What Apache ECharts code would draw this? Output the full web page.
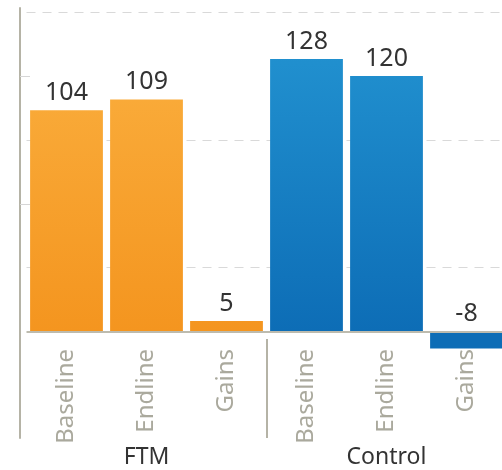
<!DOCTYPE html>
<html>
<head>
<meta charset="utf-8">
<script src="https://cdn.jsdelivr.net/npm/echarts@6/dist/echarts.min.js"></script>
<style>
html,body{margin:0;padding:0;background:#fff;}
#chart{width:502px;height:470px;}
</style>
</head>
<body>
<div id="chart"></div>
<script>
var groups = ['FTM', 'Control'];
var subCategories = ['Baseline', 'Endline', 'Gains'];
var ftmValues = [104, 109, 5];
var controlValues = [128, 120, -8];
var gridLineValues = [30, 90, 150];
var tickValues = [60, 120];

var categories = subCategories.concat(subCategories);
var nCat = categories.length;
var groupBoundary = subCategories.length;
var orange = {type:'linear', x:0, y:8, x2:0, y2:331, global:true,
  colorStops:[{offset:0,color:'#FBB242'},{offset:1,color:'#F4951F'}]};
var blue = {type:'linear', x:0, y:8, x2:0, y2:331, global:true,
  colorStops:[{offset:0,color:'#2496D3'},{offset:1,color:'#0D6DB6'}]};
var barData = ftmValues.map(function(v){return {value:v, itemStyle:{color:orange}};})
  .concat(controlValues.map(function(v){return {value:v, itemStyle:{color:blue}};}));

var chart = echarts.init(document.getElementById('chart'), null, {renderer:'canvas'});
chart.setOption({
  animation:false,
  backgroundColor:'#fff',
  grid:{left:26.5, right:-4.5, top:8, bottom:32, containLabel:false, outerBoundsMode:'none'},
  xAxis:[{
    type:'category', data:categories, position:'bottom',
    axisLine:{show:false, onZero:false},
    axisTick:{show:false},
    axisLabel:{rotate:90, margin:-89, fontSize:24, color:'#aaa99d', fontFamily:'Noto Sans'},
    splitLine:{show:false}
  },{
    type:'category', data:groups, position:'bottom',
    axisLine:{show:false, onZero:false},
    axisTick:{show:false},
    axisLabel:{margin:8, fontSize:23, color:'#333', fontFamily:'Noto Sans'},
    splitLine:{show:false}
  },{
    type:'value', min:0, max:nCat, show:false, position:'bottom',
    axisLine:{show:false, onZero:false}, splitLine:{show:false}
  }],
  yAxis:{
    type:'value', min:-50, max:152, offset:6.5,
    axisLine:{show:true, onZero:false, lineStyle:{color:'#b5b3a6', width:2}},
    axisTick:{show:true, inside:true, length:10, customValues:tickValues, lineStyle:{color:'#d6d6d6'}},
    axisLabel:{show:false},
    splitLine:{show:false}
  },
  series:[{
    type:'line', xAxisIndex:2, data:[], silent:true,
    markLine:{
      silent:true, symbol:'none', label:{show:false}, z:1,
      data:gridLineValues.map(function(v){return {yAxis:v, lineStyle:{color:'#d9d9d9', type:[9,7], width:1}};})
        .concat([[{coord:[groupBoundary, -3.5], lineStyle:{color:'#b5b3a6', type:'solid', width:2}}, {coord:[groupBoundary, -50]}]])
    },
    z:1
  },{
    type:'bar', xAxisIndex:0, data:barData, barWidth:'91%',
    label:{show:true, position:'top', distance:5, fontSize:25, color:'#333', fontFamily:'Noto Sans'},
    markLine:{
      silent:true, symbol:'none', label:{show:false},
      data:[{yAxis:0, lineStyle:{color:'#bdbbae', type:'solid', width:2}}]
    },
    z:3
  }]
});
</script>
</body>
</html>
